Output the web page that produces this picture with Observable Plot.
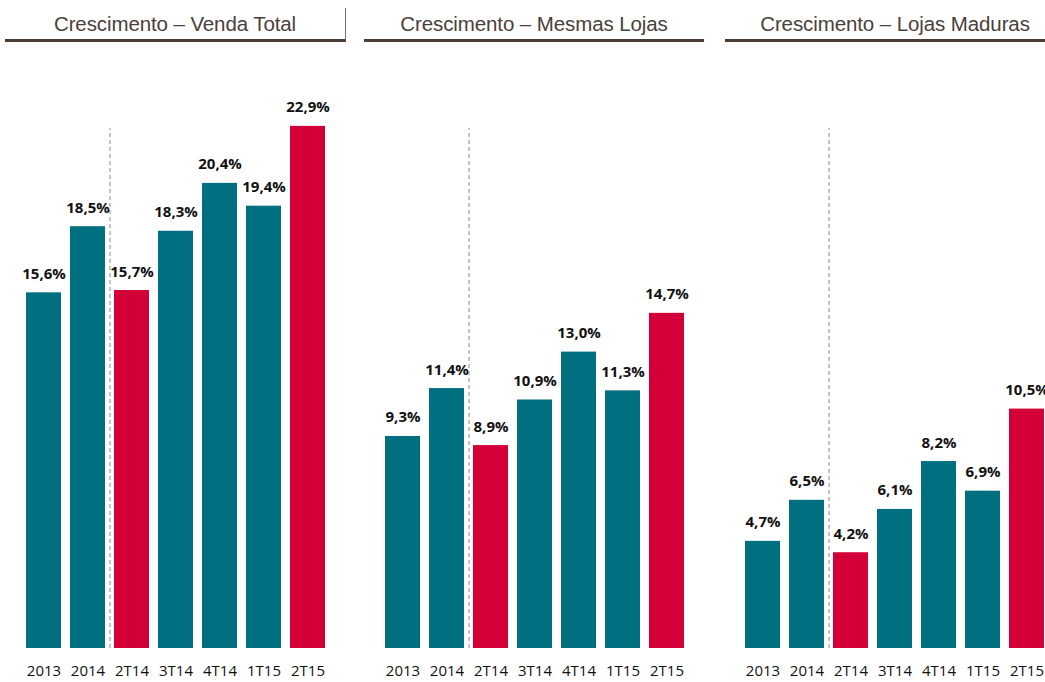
<!DOCTYPE html>
<html>
<head>
<meta charset="utf-8">
<script src="https://cdn.jsdelivr.net/npm/d3@7"></script>
<script src="https://cdn.jsdelivr.net/npm/@observablehq/plot@0.6"></script>
<style>
  html, body { margin: 0; padding: 0; background: #fff; }
  #root { position: relative; width: 1045px; height: 682px; overflow: hidden; font-family: "Liberation Sans", Arial, sans-serif; }
  .title { position: absolute; top: 8px; width: 340px; height: 31px; border-bottom: 3px solid #4b3d33; color: #4a403a; font-size: 20.5px; letter-spacing: -0.1px; text-align: center; line-height: 31px; box-sizing: content-box; white-space: nowrap; }
  .title.first { border-right: 1px solid #7a6e66; }
  .panel { position: absolute; top: 0; width: 360px; height: 682px; }
  .panel svg { max-width: none !important; }
</style>
</head>
<body>
<div id="root"></div>
<script>
const categories = ["2013", "2014", "2T14", "3T14", "4T14", "1T15", "2T15"];
const highlighted = ["2T14", "2T15"];
const titles = ["Crescimento – Venda Total", "Crescimento – Mesmas Lojas", "Crescimento – Lojas Maduras"];
const vendaTotal = [15.6, 18.5, 15.7, 18.3, 20.4, 19.4, 22.9];
const mesmasLojas = [9.3, 11.4, 8.9, 10.9, 13.0, 11.3, 14.7];
const lojasMaduras = [4.7, 6.5, 4.2, 6.1, 8.2, 6.9, 10.5];
const series = [vendaTotal, mesmasLojas, lojasMaduras];

const teal = "#006F80";
const red = "#D20036";
const titleLefts = [5, 364, 725];
const panelLefts = [0, 359, 719];

const root = document.getElementById("root");
const fmt = v => v.toFixed(1).replace(".", ",") + "%";

series.forEach((vals, i) => {
  const t = document.createElement("div");
  t.className = "title" + (i === 0 ? " first" : "");
  t.style.left = titleLefts[i] + "px";
  t.textContent = titles[i];
  root.appendChild(t);

  const data = categories.map((c, j) => ({cat: c, value: vals[j]}));
  const chart = Plot.plot({
    width: 360,
    height: 682,
    marginLeft: 17,
    marginRight: 26,
    marginTop: 0,
    marginBottom: 34,
    style: {fontFamily: "'Open Sans', 'Liberation Sans', sans-serif", background: "transparent", maxWidth: "none"},
    x: {domain: categories, padding: 0.2, label: null},
    y: {domain: [0, 25], range: [648, 648 - 25 * 22.8], axis: null},
    marks: [
      Plot.barY(data, {x: "cat", y: "value", fill: d => highlighted.includes(d.cat) ? red : teal}),
      Plot.ruleX(["2014"], {x: d => d, dx: 22, y1: 0, y2: 22.8, stroke: "#8a8a8a", strokeDasharray: "4,3", strokeWidth: 1}),
      Plot.text(data, {x: "cat", y: "value", text: d => fmt(d.value), lineAnchor: "bottom", dy: -14, fontSize: 15, fontWeight: "bold", fill: "#111"}),
      Plot.axisX({tickSize: 0, tickPadding: 17, fontSize: 15, label: null, color: "#111"})
    ]
  });
  const wrap = document.createElement("div");
  wrap.className = "panel";
  wrap.style.left = panelLefts[i] + "px";
  wrap.appendChild(chart);
  root.appendChild(wrap);
});
</script>
</body>
</html>
